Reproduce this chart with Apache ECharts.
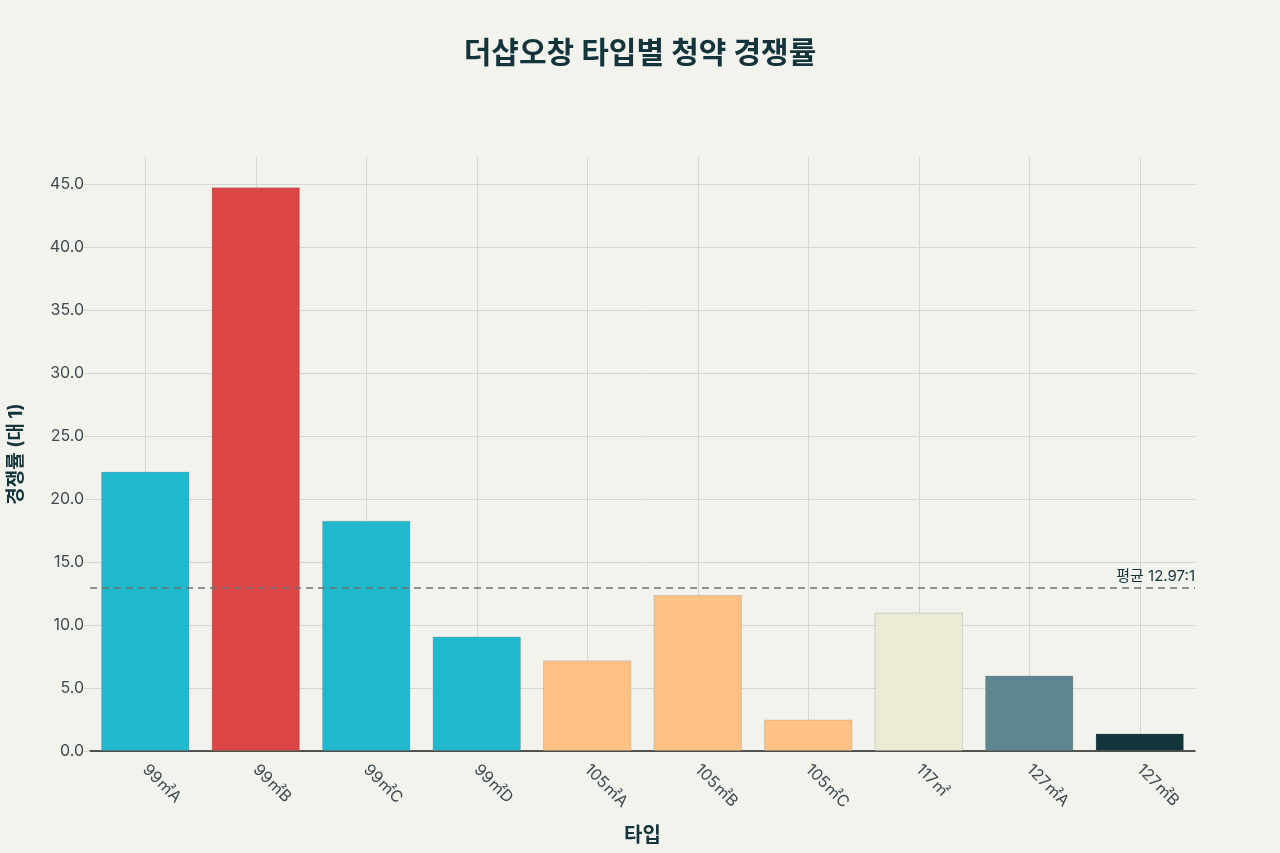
<!DOCTYPE html>
<html>
<head>
<meta charset="utf-8">
<script src="https://cdn.jsdelivr.net/npm/echarts@6/dist/echarts.min.js"></script>
<style>
  html, body { margin: 0; padding: 0; background: #F3F3EE; }
  #chart { width: 1280px; height: 853px; }
</style>
</head>
<body>
<div id="chart"></div>
<script>
// 타입별 데이터
const types = ['99㎡A', '99㎡B', '99㎡C', '99㎡D', '105㎡A', '105㎡B', '105㎡C', '117㎡', '127㎡A', '127㎡B'];
const rates = [22.2, 44.8, 18.3, 9.1, 7.2, 12.4, 2.5, 11.0, 6.0, 1.4];
const barColors = ['#1FB8CD', '#DB4545', '#1FB8CD', '#1FB8CD', '#FFC185', '#FFC185', '#FFC185', '#ECEBD5', '#5D878F', '#13343B'];
const avgRate = 12.97;

const FONT = 'Inter, "Noto Sans CJK KR", sans-serif';
const chart = echarts.init(document.getElementById('chart'));

const option = {
  backgroundColor: '#F3F3EE',
  textStyle: { fontFamily: FONT },
  title: {
    text: '더샵오창 타입별 청약 경쟁률',
    left: 'center',
    top: 34,
    textStyle: { fontFamily: FONT, fontSize: 30, fontWeight: 'bold', color: '#13343B' }
  },
  grid: [
    { left: 90, right: 85, top: 157, bottom: 102, containLabel: false, outerBoundsMode: 'none' },
    // 카테고리 중앙 세로 격자선용
    { left: 145.25, right: 140.25, top: 157, bottom: 102, containLabel: false, outerBoundsMode: 'none' }
  ],
  xAxis: [
    {
      type: 'category',
      data: types,
      gridIndex: 0,
      name: '타입',
      nameLocation: 'middle',
      nameGap: 75,
      nameTextStyle: { fontSize: 20, fontWeight: 'bold', color: '#13343B', fontFamily: FONT },
      axisLine: { lineStyle: { color: '#222', width: 1.5 } },
      axisTick: { alignWithLabel: true, length: 6, lineStyle: { color: '#d6d6d0' } },
      axisLabel: { rotate: -45, fontSize: 16, color: '#3d4a50', margin: 16, fontFamily: FONT },
      splitLine: { show: false }
    },
    {
      type: 'value',
      gridIndex: 1,
      min: 0, max: 9, interval: 1,
      axisLine: { show: false },
      axisTick: { show: false },
      axisLabel: { show: false },
      splitLine: { show: true, lineStyle: { color: '#d6d6d0', width: 1 } }
    }
  ],
  yAxis: [
    {
      type: 'value',
      gridIndex: 0,
      min: 0, max: 47.2, interval: 5,
      name: '경쟁률 (대 1)',
      nameLocation: 'middle',
      nameGap: 64,
      nameRotate: 90,
      nameTextStyle: { fontSize: 19, fontWeight: 'bold', color: '#13343B', fontFamily: FONT },
      axisLine: { show: false },
      axisTick: { show: true, length: 6, lineStyle: { color: '#d6d6d0' } },
      axisLabel: {
        fontSize: 16, color: '#3d4a50', margin: 6, fontFamily: FONT,
        formatter: v => v.toFixed(1),
        showMaxLabel: false
      },
      splitLine: { showMaxLine: false, lineStyle: { color: '#d6d6d0', width: 1 } }
    },
    {
      type: 'value',
      gridIndex: 1,
      min: 0, max: 1,
      show: false,
      splitLine: { show: false }
    }
  ],
  series: [
    {
      type: 'bar',
      xAxisIndex: 0,
      yAxisIndex: 0,
      barCategoryGap: '20%',
      data: rates.map((v, i) => ({
        value: v,
        itemStyle: { color: barColors[i], borderColor: 'rgba(120,120,110,0.25)', borderWidth: 1 }
      })),
      markLine: {
        silent: true,
        symbol: 'none',
        data: [{ yAxis: avgRate }],
        lineStyle: { type: [7, 5], color: '#6f6f6f', width: 1.5 },
        label: {
          position: 'insideEndTop',
          formatter: '평균 ' + avgRate + ':1',
          fontSize: 15,
          color: '#13343B',
          fontFamily: FONT,
          distance: [0, 4]
        }
      }
    },
    {
      type: 'scatter',
      xAxisIndex: 1,
      yAxisIndex: 1,
      data: [],
      silent: true
    }
  ]
};

chart.setOption(option);
</script>
</body>
</html>
